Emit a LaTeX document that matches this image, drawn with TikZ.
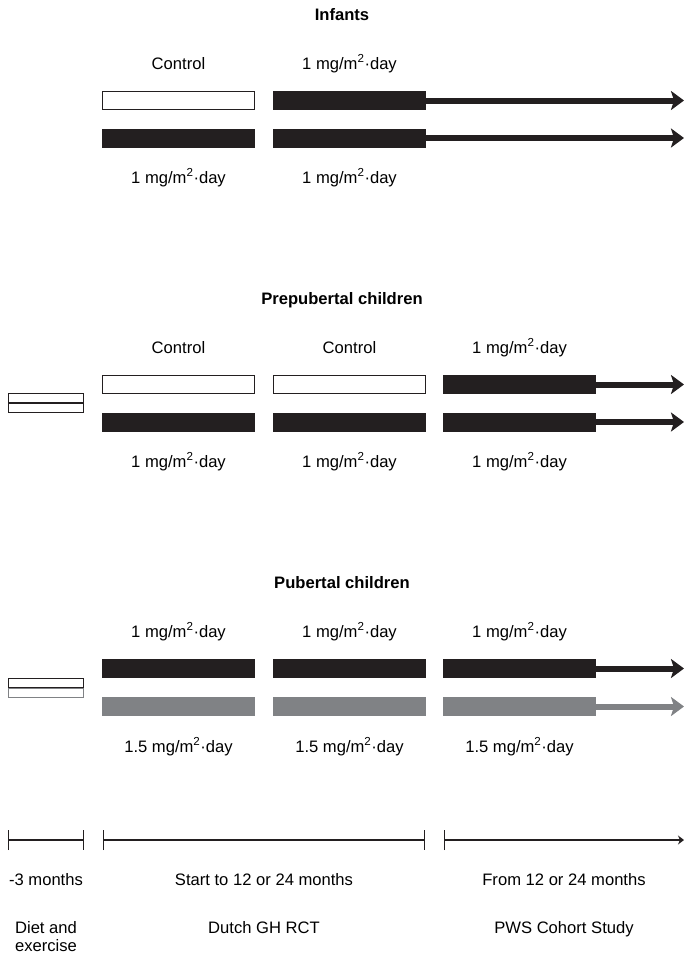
\documentclass[tikz,border=0pt]{standalone}
\usepackage{fontspec}
\setmainfont{Liberation Sans}
\usetikzlibrary{arrows.meta}
\definecolor{barblack}{RGB}{35,31,32}
\definecolor{bargray}{RGB}{128,130,133}
\newcommand{\dose}[1]{#1 mg/m\textsuperscript{2}·day}
\tikzset{
  bar/.style={rectangle, minimum width=153pt, minimum height=19pt, inner sep=0pt},
  nobar/.style={bar, draw=barblack, line width=1.2pt, fill=white, minimum width=151.8pt, minimum height=17.8pt},
  dosebar/.style={bar, fill=barblack},
  graybar/.style={bar, fill=bargray},
  doseline/.style={line width=6pt, draw=barblack, -{Stealth[length=13pt,width=19pt,inset=3pt]}},
  grayline/.style={doseline, draw=bargray},
  legbox/.style={rectangle, draw=barblack, line width=1.3pt, minimum width=75pt, minimum height=9pt, inner sep=0pt},
  lbl/.style={anchor=base, inner sep=0pt, font=\fontsize{16.6}{18}\selectfont},
  title/.style={lbl, font=\fontsize{16.6}{18}\selectfont\bfseries},
  timeline/.style={line width=1.2pt, draw=barblack, {Bar[width=20pt]}-{Bar[width=20pt]}}
}
\begin{document}
\begin{tikzpicture}[x=1pt,y=-1pt]
    \useasboundingbox (0,0) rectangle (684,956);
    % Infants
    \node[title] (inf-title) at (342,20) {Infants};
    \node[nobar] (inf-a1) at (178.5,100.5) {};
    \node[dosebar] (inf-a2) at (349.5,100.5) {};
    \node[dosebar] (inf-b1) at (178.5,138) {};
    \node[dosebar] (inf-b2) at (349.5,138) {};
    \coordinate (inf-a-end) at (684,100.5);
    \coordinate (inf-b-end) at (684,138);
    \draw[doseline] (inf-a2.east) -- (inf-a-end);
    \draw[doseline] (inf-b2.east) -- (inf-b-end);
    \node[lbl] (inf-a1-lbl) at (178.5,69) {Control};
    \node[lbl] (inf-a2-lbl) at (349.5,69) {\dose{1}};
    \node[lbl] (inf-b1-lbl) at (178.5,183) {\dose{1}};
    \node[lbl] (inf-b2-lbl) at (349.5,183) {\dose{1}};
    % Prepubertal children
    \node[title] (pre-title) at (342,304) {Prepubertal children};
    \node[legbox] (pre-leg-a) at (46,398) {};
    \node[legbox] (pre-leg-b) at (46,408) {};
    \node[nobar] (pre-a1) at (178.5,384.5) {};
    \node[nobar] (pre-a2) at (349.5,384.5) {};
    \node[dosebar] (pre-a3) at (519.5,384.5) {};
    \node[dosebar] (pre-b1) at (178.5,422) {};
    \node[dosebar] (pre-b2) at (349.5,422) {};
    \node[dosebar] (pre-b3) at (519.5,422) {};
    \coordinate (pre-a-end) at (684,384.5);
    \coordinate (pre-b-end) at (684,422);
    \draw[doseline] (pre-a3.east) -- (pre-a-end);
    \draw[doseline] (pre-b3.east) -- (pre-b-end);
    \node[lbl] (pre-a1-lbl) at (178.5,353) {Control};
    \node[lbl] (pre-a2-lbl) at (349.5,353) {Control};
    \node[lbl] (pre-a3-lbl) at (519.5,353) {\dose{1}};
    \node[lbl] (pre-b1-lbl) at (178.5,467) {\dose{1}};
    \node[lbl] (pre-b2-lbl) at (349.5,467) {\dose{1}};
    \node[lbl] (pre-b3-lbl) at (519.5,467) {\dose{1}};
    % Pubertal children
    \node[title] (pub-title) at (342,588) {Pubertal children};
    \node[legbox] (pub-leg-a) at (46,683) {};
    \node[legbox, draw=bargray] (pub-leg-b) at (46,693) {};
    \node[dosebar] (pub-a1) at (178.5,668.5) {};
    \node[dosebar] (pub-a2) at (349.5,668.5) {};
    \node[dosebar] (pub-a3) at (519.5,668.5) {};
    \node[graybar] (pub-b1) at (178.5,706.5) {};
    \node[graybar] (pub-b2) at (349.5,706.5) {};
    \node[graybar] (pub-b3) at (519.5,706.5) {};
    \coordinate (pub-a-end) at (684,668.5);
    \coordinate (pub-b-end) at (684,706.5);
    \draw[doseline] (pub-a3.east) -- (pub-a-end);
    \draw[grayline] (pub-b3.east) -- (pub-b-end);
    \node[lbl] (pub-a1-lbl) at (178.5,637) {\dose{1}};
    \node[lbl] (pub-a2-lbl) at (349.5,637) {\dose{1}};
    \node[lbl] (pub-a3-lbl) at (519.5,637) {\dose{1}};
    \node[lbl] (pub-b1-lbl) at (178.5,752) {\dose{1.5}};
    \node[lbl] (pub-b2-lbl) at (349.5,752) {\dose{1.5}};
    \node[lbl] (pub-b3-lbl) at (519.5,752) {\dose{1.5}};
    % time line
    \coordinate (t0) at (8,840);
    \coordinate (t1) at (84,840);
    \coordinate (t2) at (103,840);
    \coordinate (t3) at (425,840);
    \coordinate (t4) at (444,840);
    \coordinate (t5) at (684,840);
    \draw[timeline] (t0) -- (t1);
    \draw[timeline] (t2) -- (t3);
    \draw[timeline, {Bar[width=20pt]}-{Stealth[length=6pt,width=9pt]}] (t4) -- (t5);
    \node[lbl] (prep-time) at (46,885) {-3 months};
    \node[lbl] (rct-time) at (264,885) {Start to 12 or 24 months};
    \node[lbl] (coh-time) at (564,885) {From 12 or 24 months};
    \node[lbl, anchor=north, align=left] (prep-name) at (46,921) {Diet and\\exercise};
    \node[lbl] (rct-name) at (264,933) {Dutch GH RCT};
    \node[lbl] (coh-name) at (564,933) {PWS Cohort Study};
\end{tikzpicture}
\end{document}
